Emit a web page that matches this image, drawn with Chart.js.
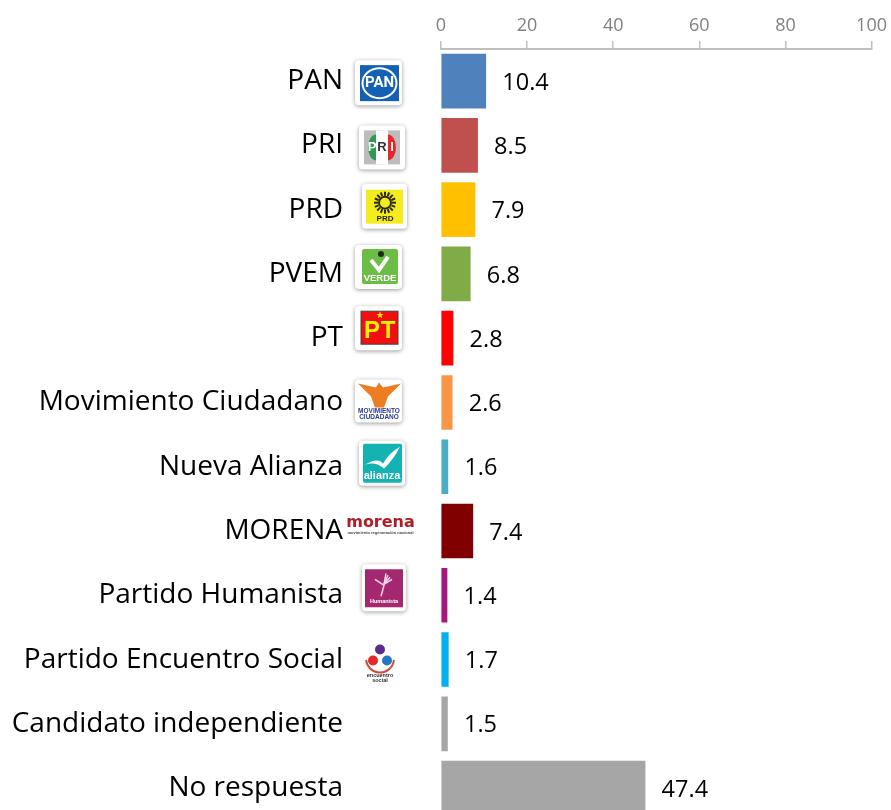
<!DOCTYPE html>
<html>
<head>
<meta charset="utf-8">
<style>
html, body { margin: 0; padding: 0; background: #fff; overflow: hidden; }
canvas { display: block; }
</style>
<script src="https://cdn.jsdelivr.net/npm/chart.js@4"></script>
</head>
<body>
<canvas id="myChart" width="891" height="837"></canvas>
<script>
var categories = ['PAN', 'PRI', 'PRD', 'PVEM', 'PT', 'Movimiento Ciudadano', 'Nueva Alianza', 'MORENA', 'Partido Humanista', 'Partido Encuentro Social', 'Candidato independiente', 'No respuesta'];
var values = [10.4, 8.5, 7.9, 6.8, 2.8, 2.6, 1.6, 7.4, 1.4, 1.7, 1.5, 47.4];
var barColors = ['#4F81BD', '#C0504D', '#FFC000', '#7FAC47', '#FF0000', '#F79646', '#4BACC6', '#800000', '#A5197F', '#00B0F0', '#A6A6A6', '#A6A6A6'];
var tickLabels = [0, 20, 40, 60, 80, 100];

var fontName = '"Open Sans", sans-serif';

// white rounded card with soft shadow behind most of the logos
function card(c, x, y, w, h) {
    c.save();
    c.shadowColor = 'rgba(0,0,0,0.4)';
    c.shadowBlur = 4;
    c.shadowOffsetX = 0;
    c.shadowOffsetY = 1;
    c.fillStyle = '#fff';
    c.beginPath();
    c.roundRect(x, y, w, h, 4);
    c.fill();
    c.restore();
}

function smallText(c, txt, x, y, font, color) {
    c.font = font;
    c.fillStyle = color;
    c.textAlign = 'center';
    c.textBaseline = 'middle';
    c.fillText(txt, x, y);
}

var logos = [
    function (c, y) { // PAN
        card(c, 355, y - 21, 47, 45);
        c.fillStyle = '#1460B4';
        c.fillRect(360, y - 16, 39, 36);
        c.strokeStyle = '#fff';
        c.lineWidth = 2;
        c.beginPath();
        c.ellipse(379.5, y + 2, 17, 15, 0, 0, Math.PI * 2);
        c.stroke();
        smallText(c, 'PAN', 379.5, y + 2, 'bold 15px "Liberation Sans Narrow", Roboto', '#fff');
    },
    function (c, y) { // PRI
        card(c, 359, y - 20, 46, 44);
        c.fillStyle = '#BDBDBD';
        c.fillRect(364, y - 15, 36, 34);
        c.fillStyle = '#fff';
        c.fillRect(376, y - 15, 12, 34);
        c.fillStyle = '#2E9B50';
        c.beginPath();
        c.ellipse(376, y + 2, 8, 13, 0, Math.PI / 2, Math.PI * 1.5);
        c.fill();
        c.fillStyle = '#E8262A';
        c.beginPath();
        c.ellipse(388, y + 2, 8, 13, 0, -Math.PI / 2, Math.PI / 2);
        c.fill();
        smallText(c, 'P', 372, y + 2, 'bold 13px "Liberation Sans"', '#fff');
        smallText(c, 'R', 382, y + 2, 'bold 13px "Liberation Sans"', '#333');
        smallText(c, 'I', 392, y + 2, 'bold 13px "Liberation Sans"', '#fff');
    },
    function (c, y) { // PRD
        card(c, 362, y - 26, 45, 45);
        c.fillStyle = '#F5EC1E';
        c.fillRect(366, y - 20, 37, 34);
        c.strokeStyle = '#2B2B10';
        c.lineWidth = 2;
        for (var i = 0; i < 16; i++) {
            var a = i * Math.PI / 8;
            c.beginPath();
            c.moveTo(385 + Math.cos(a) * 7, y - 7 + Math.sin(a) * 7);
            c.lineTo(385 + Math.cos(a) * 11, y - 7 + Math.sin(a) * 11);
            c.stroke();
        }
        c.lineWidth = 2;
        c.beginPath();
        c.arc(385, y - 7, 6, 0, Math.PI * 2);
        c.stroke();
        smallText(c, 'PRD', 385, y + 9, 'bold 8px "Liberation Sans"', '#222');
    },
    function (c, y) { // PVEM
        card(c, 355, y - 29, 47, 44);
        c.fillStyle = '#6CBD45';
        c.beginPath();
        c.roundRect(362, y - 25, 36, 35, 2);
        c.fill();
        c.strokeStyle = '#fff';
        c.lineWidth = 4;
        c.beginPath();
        c.moveTo(371, y - 14);
        c.lineTo(379, y - 4);
        c.lineTo(388, y - 17);
        c.stroke();
        c.fillStyle = '#1F2A1F';
        c.beginPath();
        c.arc(381, y - 20, 3, 0, Math.PI * 2);
        c.fill();
        smallText(c, 'VERDE', 380, y + 4, 'bold 9.5px "Liberation Sans"', '#fff');
    },
    function (c, y) { // PT
        card(c, 355, y - 32, 47, 44);
        c.fillStyle = '#F01010';
        c.fillRect(361, y - 27, 37, 33);
        c.strokeStyle = '#444';
        c.lineWidth = 1;
        c.strokeRect(361, y - 27, 37, 33);
        smallText(c, 'P', 372, y - 7, 'bold 24px "Liberation Sans"', '#FFF200');
        smallText(c, 'T', 388, y - 7, 'bold 24px "Liberation Sans"', '#FFF200');
        smallText(c, '\u2605', 380, y - 23, '9px "DejaVu Sans"', '#FFF200');
    },
    function (c, y) { // Movimiento Ciudadano
        card(c, 355, y - 23, 47, 43);
        c.fillStyle = '#EE7D21';
        c.beginPath();
        c.moveTo(358, y - 19);
        c.lineTo(376, y - 15);
        c.lineTo(379, y - 20);
        c.lineTo(383, y - 15);
        c.lineTo(401, y - 19);
        c.lineTo(388, y - 6);
        c.lineTo(384, y + 5);
        c.lineTo(375, y + 5);
        c.lineTo(371, y - 6);
        c.closePath();
        c.fill();
        smallText(c, 'MOVIMIENTO', 379, y + 9, 'bold 6.5px "Liberation Sans"', '#2B3990');
        smallText(c, 'CIUDADANO', 379, y + 15, 'bold 6.5px "Liberation Sans"', '#2B3990');
    },
    function (c, y) { // Nueva Alianza
        card(c, 359, y - 26, 46, 45);
        c.fillStyle = '#12B3B0';
        c.beginPath();
        c.roundRect(363, y - 23, 39, 39, 2);
        c.fill();
        c.fillStyle = '#fff';
        c.beginPath();
        c.moveTo(365, y - 2);
        c.quadraticCurveTo(378, y - 10, 383, y - 3);
        c.quadraticCurveTo(389, y - 14, 400, y - 20);
        c.quadraticCurveTo(394, y - 8, 384, y + 2);
        c.quadraticCurveTo(376, y - 6, 365, y - 2);
        c.fill();
        smallText(c, 'alianza', 382, y + 9, 'bold 11px "Liberation Sans"', '#fff');
    },
    function (c, y) { // MORENA
        smallText(c, 'morena', 380.5, y - 8, 'bold 16px "DejaVu Sans"', '#B01E23');
        smallText(c, 'movimiento regeneraci\u00f3n nacional', 380.5, y + 2, 'bold 4px "Liberation Sans"', '#444');
    },
    function (c, y) { // Partido Humanista
        card(c, 362, y - 31, 44, 47);
        c.fillStyle = '#A4286F';
        c.fillRect(365, y - 26, 38, 38);
        c.strokeStyle = '#F4D6E6';
        c.lineWidth = 1.5;
        for (var i = 0; i < 4; i++) {
            c.beginPath();
            c.moveTo(384, y - 11);
            c.lineTo(386 + i * 2, y - 22 + i * 2);
            c.stroke();
        }
        c.beginPath();
        c.moveTo(375, y - 16);
        c.lineTo(384, y - 10);
        c.lineTo(381, y + 1);
        c.stroke();
        smallText(c, 'Humanista', 384, y + 6, 'bold 5.5px "Liberation Sans"', '#fff');
    },
    function (c, y) { // Partido Encuentro Social
        c.fillStyle = '#5B2C8C';
        c.beginPath();
        c.arc(380, y - 10, 5, 0, Math.PI * 2);
        c.fill();
        c.strokeStyle = '#C9503E';
        c.lineWidth = 2;
        c.beginPath();
        c.arc(380, y - 1, 14, 0.1, Math.PI - 0.1);
        c.stroke();
        c.fillStyle = '#E5262B';
        c.beginPath();
        c.arc(373, y + 1, 5, 0, Math.PI * 2);
        c.fill();
        c.fillStyle = '#1F78C1';
        c.beginPath();
        c.arc(387, y + 1, 5, 0, Math.PI * 2);
        c.fill();
        smallText(c, 'encuentro', 380, y + 16, 'bold 5.5px "Liberation Sans"', '#333');
        smallText(c, 'social', 380, y + 21, 'bold 5.5px "Liberation Sans"', '#333');
    }
];

var extras = {
    id: 'extras',
    afterDatasetsDraw: function (chart) {
        var c = chart.ctx;
        var x = chart.scales.x;
        var y = chart.scales.y;
        c.save();
        // value labels to the right of each bar
        c.font = '23.5px ' + fontName;
        c.fillStyle = '#000';
        c.textAlign = 'left';
        c.textBaseline = 'middle';
        values.forEach(function (v, i) {
            c.fillText(v.toFixed(1), x.getPixelForValue(v) + 16.5, y.getPixelForTick(i) + 2);
        });
        logos.forEach(function (draw, i) {
            draw(c, y.getPixelForTick(i));
        });
        c.restore();
    }
};

const ctx = document.getElementById('myChart');

new Chart(ctx, {
    type: 'bar',
    data: {
        labels: categories,
        datasets: [{
            data: values,
            backgroundColor: barColors,
            barThickness: 54,
            borderWidth: 0
        }]
    },
    options: {
        indexAxis: 'y',
        responsive: false,
        animation: false,
        layout: { padding: { top: 0, right: 18.5, bottom: 0, left: 0 } },
        plugins: {
            legend: { display: false },
            tooltip: { enabled: false }
        },
        scales: {
            x: {
                position: 'top',
                min: 0,
                max: 100,
                afterFit: function (s) { s.height = 49; },
                afterBuildTicks: function (s) {
                    s.ticks = tickLabels.map(function (t) { return { value: t }; });
                },
                border: { color: '#BFBFBF', width: 2 },
                grid: { drawOnChartArea: false, color: '#BFBFBF', lineWidth: 1.5, tickLength: 8 },
                ticks: {
                    color: '#808080',
                    font: { family: fontName, size: 18 },
                    padding: 4,
                    maxRotation: 0
                }
            },
            y: {
                afterFit: function (s) { s.width = 441; },
                border: { display: false },
                // tickLength only pushes the labels away from the axis
                grid: { display: false, drawTicks: true, tickLength: 98 },
                ticks: {
                    color: '#000',
                    font: { family: fontName, size: 28 },
                    padding: 0,
                    autoSkip: false
                }
            }
        }
    },
    plugins: [extras]
});
</script>
</body>
</html>
